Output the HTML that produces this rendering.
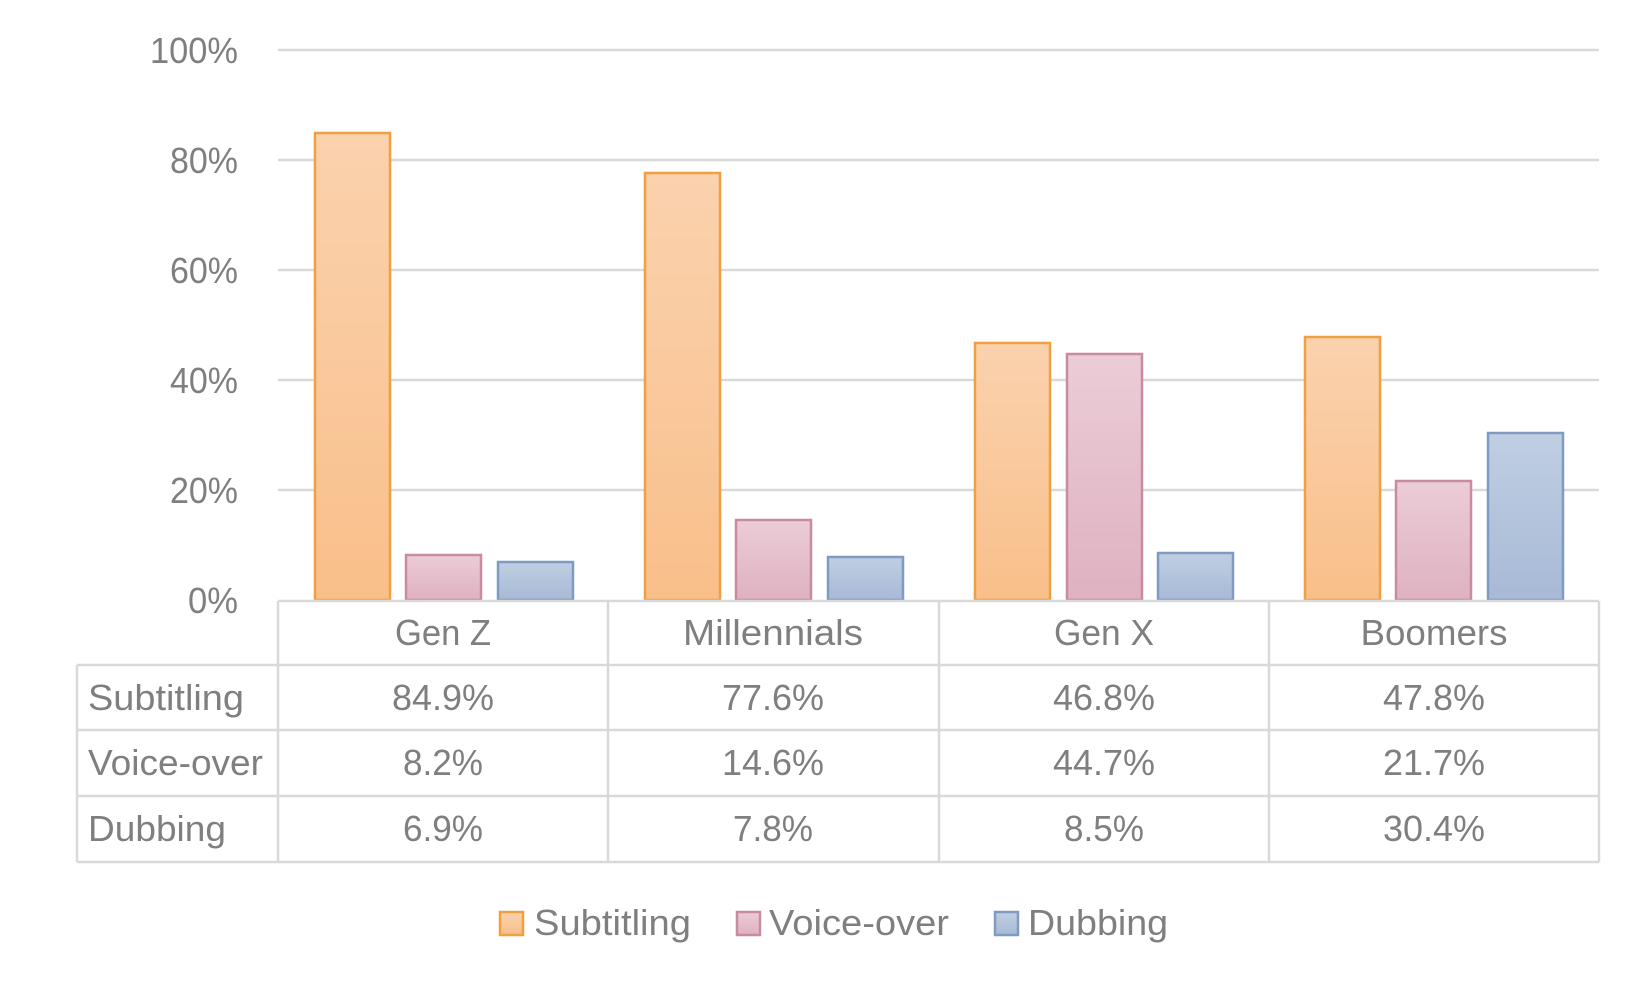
<!DOCTYPE html>
<html><head><meta charset="utf-8"><style>html,body{margin:0;padding:0;background:#fff}svg{display:block}</style></head>
<body>
<svg width="1650" height="990" viewBox="0 0 1650 990" xmlns="http://www.w3.org/2000/svg" font-family="'Liberation Sans', sans-serif" fill="#7f7f7f">
<defs>
<linearGradient id="go" x1="0" y1="0" x2="0" y2="1"><stop offset="0" stop-color="#fad2ae"/><stop offset="1" stop-color="#f9bf8a"/></linearGradient>
<linearGradient id="gp" x1="0" y1="0" x2="0" y2="1"><stop offset="0" stop-color="#ebccd7"/><stop offset="1" stop-color="#dfb1c1"/></linearGradient>
<linearGradient id="gb" x1="0" y1="0" x2="0" y2="1"><stop offset="0" stop-color="#c0cfe2"/><stop offset="1" stop-color="#a7b9d6"/></linearGradient>
</defs>
<g stroke="#d9d9d9" stroke-width="2.5">
<line x1="278" y1="50" x2="1599" y2="50"/>
<line x1="278" y1="160" x2="1599" y2="160"/>
<line x1="278" y1="270" x2="1599" y2="270"/>
<line x1="278" y1="380" x2="1599" y2="380"/>
<line x1="278" y1="490" x2="1599" y2="490"/>
</g>
<g font-size="36" text-anchor="end">
<text x="238" y="63" textLength="88" lengthAdjust="spacingAndGlyphs">100%</text>
<text x="238" y="173" textLength="68" lengthAdjust="spacingAndGlyphs">80%</text>
<text x="238" y="283" textLength="68" lengthAdjust="spacingAndGlyphs">60%</text>
<text x="238" y="393" textLength="68" lengthAdjust="spacingAndGlyphs">40%</text>
<text x="238" y="503" textLength="68" lengthAdjust="spacingAndGlyphs">20%</text>
<text x="238" y="613" textLength="50" lengthAdjust="spacingAndGlyphs">0%</text>
</g>
<g stroke-width="2.5">
<rect x="315" y="133" width="75" height="467" fill="url(#go)" stroke="#f0a040"/>
<rect x="406" y="555" width="75" height="45" fill="url(#gp)" stroke="#c98ba2"/>
<rect x="498" y="562" width="75" height="38" fill="url(#gb)" stroke="#7f9bc3"/>
<rect x="645" y="173" width="75" height="427" fill="url(#go)" stroke="#f0a040"/>
<rect x="736" y="520" width="75" height="80" fill="url(#gp)" stroke="#c98ba2"/>
<rect x="828" y="557" width="75" height="43" fill="url(#gb)" stroke="#7f9bc3"/>
<rect x="975" y="343" width="75" height="257" fill="url(#go)" stroke="#f0a040"/>
<rect x="1067" y="354" width="75" height="246" fill="url(#gp)" stroke="#c98ba2"/>
<rect x="1158" y="553" width="75" height="47" fill="url(#gb)" stroke="#7f9bc3"/>
<rect x="1305" y="337" width="75" height="263" fill="url(#go)" stroke="#f0a040"/>
<rect x="1396" y="481" width="75" height="119" fill="url(#gp)" stroke="#c98ba2"/>
<rect x="1488" y="433" width="75" height="167" fill="url(#gb)" stroke="#7f9bc3"/>
</g>
<g stroke="#d9d9d9" stroke-width="2.5" fill="none">
<line x1="278" y1="601" x2="1599" y2="601"/>
<line x1="77" y1="665" x2="1599" y2="665"/>
<line x1="77" y1="730" x2="1599" y2="730"/>
<line x1="77" y1="796" x2="1599" y2="796"/>
<line x1="77" y1="862" x2="1599" y2="862"/>
<line x1="77" y1="665" x2="77" y2="862"/>
<line x1="278" y1="601" x2="278" y2="862"/>
<line x1="608" y1="601" x2="608" y2="862"/>
<line x1="939" y1="601" x2="939" y2="862"/>
<line x1="1269" y1="601" x2="1269" y2="862"/>
<line x1="1599" y1="601" x2="1599" y2="862"/>
</g>
<g font-size="36" text-anchor="middle">
<text x="443" y="645" textLength="96" lengthAdjust="spacingAndGlyphs">Gen Z</text>
<text x="773" y="645" textLength="180" lengthAdjust="spacingAndGlyphs">Millennials</text>
<text x="1104" y="645" textLength="100" lengthAdjust="spacingAndGlyphs">Gen X</text>
<text x="1434" y="645" textLength="147" lengthAdjust="spacingAndGlyphs">Boomers</text>
<text x="443" y="710" textLength="102" lengthAdjust="spacingAndGlyphs">84.9%</text>
<text x="773" y="710" textLength="102" lengthAdjust="spacingAndGlyphs">77.6%</text>
<text x="1104" y="710" textLength="102" lengthAdjust="spacingAndGlyphs">46.8%</text>
<text x="1434" y="710" textLength="102" lengthAdjust="spacingAndGlyphs">47.8%</text>
<text x="443" y="775" textLength="80" lengthAdjust="spacingAndGlyphs">8.2%</text>
<text x="773" y="775" textLength="102" lengthAdjust="spacingAndGlyphs">14.6%</text>
<text x="1104" y="775" textLength="102" lengthAdjust="spacingAndGlyphs">44.7%</text>
<text x="1434" y="775" textLength="102" lengthAdjust="spacingAndGlyphs">21.7%</text>
<text x="443" y="841" textLength="80" lengthAdjust="spacingAndGlyphs">6.9%</text>
<text x="773" y="841" textLength="80" lengthAdjust="spacingAndGlyphs">7.8%</text>
<text x="1104" y="841" textLength="80" lengthAdjust="spacingAndGlyphs">8.5%</text>
<text x="1434" y="841" textLength="102" lengthAdjust="spacingAndGlyphs">30.4%</text>
</g>
<g font-size="36">
<text x="88" y="710" textLength="156" lengthAdjust="spacingAndGlyphs">Subtitling</text>
<text x="88" y="775" textLength="175" lengthAdjust="spacingAndGlyphs">Voice-over</text>
<text x="88" y="841" textLength="138" lengthAdjust="spacingAndGlyphs">Dubbing</text>
</g>
<g stroke-width="2.5">
<rect x="500" y="912" width="23" height="23" fill="url(#go)" stroke="#f0a040"/>
<rect x="737" y="912" width="23" height="23" fill="url(#gp)" stroke="#c98ba2"/>
<rect x="995" y="912" width="23" height="23" fill="url(#gb)" stroke="#7f9bc3"/>
</g>
<g font-size="36">
<text x="534" y="935" textLength="157" lengthAdjust="spacingAndGlyphs">Subtitling</text>
<text x="769" y="935" textLength="180" lengthAdjust="spacingAndGlyphs">Voice-over</text>
<text x="1028" y="935" textLength="140" lengthAdjust="spacingAndGlyphs">Dubbing</text>
</g>
</svg>
</body></html>
